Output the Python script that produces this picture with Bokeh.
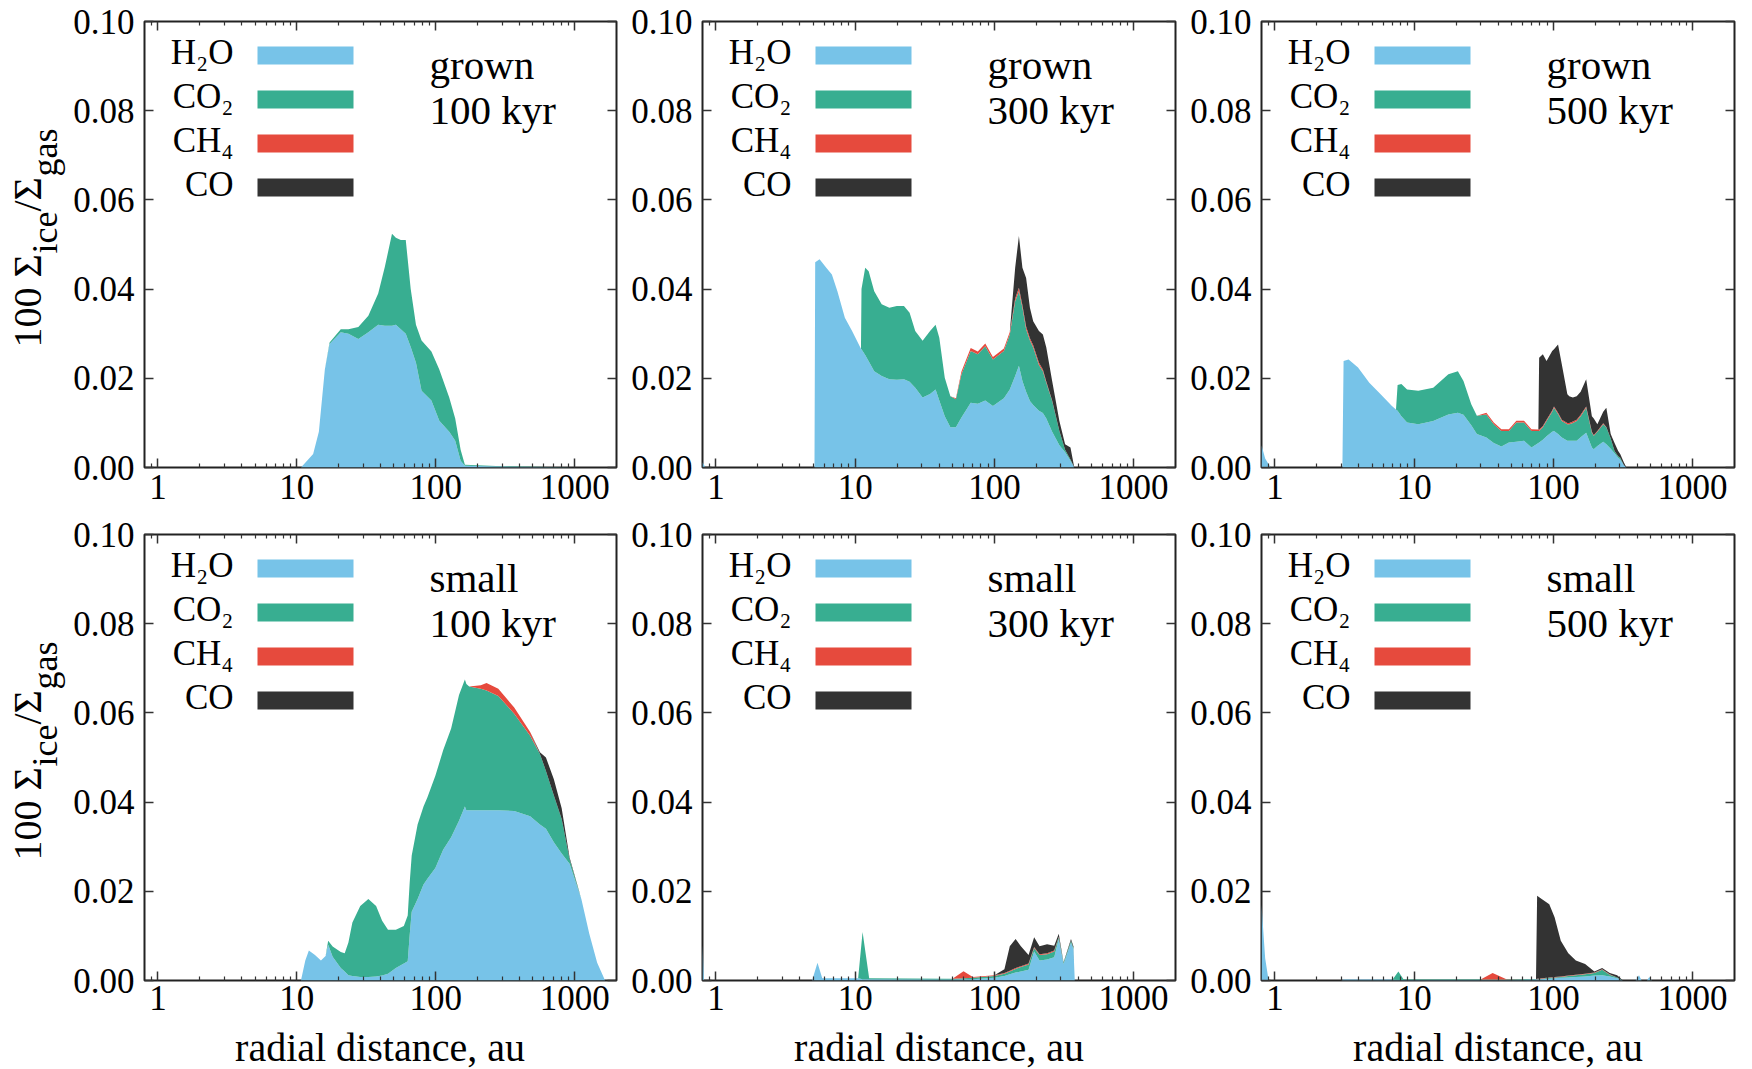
from bokeh.plotting import figure
from bokeh.models import (ColumnDataSource, FixedTicker, LogAxis, LinearAxis, Label,
                          BoxAnnotation, CustomJSTickFormatter, NumeralTickFormatter, Range1d)
from bokeh.layouts import column, row
from bokeh.core.properties import value
from bokeh.embed import file_html
from bokeh.resources import INLINE

# ---------------- data ----------------
SPECIES = ["H₂O", "CO₂", "CH₄", "CO"]
COLORS = ["#77C3E8", "#38AE91", "#E64A3D", "#333333"]
X_MAJOR = [1, 10, 100, 1000]
X_MINOR = [0.9, 2, 3, 4, 5, 6, 7, 8, 9, 20, 30, 40, 50, 60, 70, 80, 90,
           200, 300, 400, 500, 600, 700, 800, 900]
Y_TICKS = [0.0, 0.02, 0.04, 0.06, 0.08, 0.10]
X_TITLE = "radial distance, au"

# grown, 100 kyr
r_g100 = [10.7, 13.1, 14.4, 15.9, 17.2, 20.7, 23.5, 27.7, 32.7, 38.5,
          43, 48.4, 51.6, 56, 60.8, 66, 72, 79, 93, 106,
          125, 138, 151, 162, 300, 1000]
h2o_g100 = [0, 0.003, 0.008, 0.022, 0.0277, 0.0303, 0.030, 0.0288, 0.0303, 0.032,
            0.0318, 0.0318, 0.032, 0.031, 0.030, 0.027, 0.0235, 0.0172, 0.015, 0.0105,
            0.008, 0.006, 0.0015, 0.0004, 0.0002, 0]
co2_g100 = [0, 0, 0, 0, 0.0003, 0.0007, 0.001, 0.0027, 0.0037, 0.007,
            0.0132, 0.0206, 0.0195, 0.020, 0.021, 0.013, 0.0085, 0.0113, 0.011, 0.0115,
            0.0077, 0.005, 0.0025, 0.0002, 0.0001, 0]
ch4_g100 = [0, 0, 0, 0, 0, 0, 0, 0, 0, 0,
            0, 0, 0, 0, 0, 0, 0, 0, 0, 0,
            0, 0, 0, 0, 0, 0]
co_g100 = [0, 0, 0, 0, 0, 0, 0, 0, 0, 0,
           0, 0, 0, 0, 0, 0, 0, 0, 0, 0,
           0, 0, 0, 0, 0, 0]

# grown, 300 kyr
r_g300 = [0.8, 0.84, 5.1, 5.16, 5.55, 6.2, 6.8, 7.45, 8.43, 9.5,
          11.0, 11.1, 11.8, 12.5, 13.7, 15.5, 17.6, 19.9, 22.4, 24.6,
          27, 30.5, 34.5, 37.8, 40.2, 44, 48.3, 52.9, 58, 67.6,
          76, 86, 97.6, 117, 129, 141, 150, 159, 169, 180,
          190, 209, 223, 236, 260, 293, 322, 352, 375, 2000]
h2o_g300 = [0.0012, 0, 0, 0.046, 0.0467, 0.0448, 0.0433, 0.0395, 0.0336, 0.0306,
            0.0266, 0.0265, 0.0252, 0.0238, 0.0216, 0.0205, 0.0198, 0.0197, 0.0198, 0.0192,
            0.0179, 0.0157, 0.0165, 0.0175, 0.0150, 0.0115, 0.0090, 0.0090, 0.0112, 0.0145,
            0.0143, 0.0150, 0.0138, 0.0155, 0.0175, 0.0205, 0.0228, 0.0194, 0.0170, 0.0149,
            0.0140, 0.0127, 0.0122, 0.0110, 0.0080, 0.0050, 0.0034, 0.0015, 0, 0]
co2_g300 = [0, 0, 0, 0, 0, 0, 0, 0, 0, 0,
            0, 0.0135, 0.0196, 0.0202, 0.0179, 0.0161, 0.016, 0.0165, 0.0164, 0.0155,
            0.0127, 0.0127, 0.0141, 0.0145, 0.0141, 0.0086, 0.007, 0.0063, 0.0097, 0.0116,
            0.0111, 0.0122, 0.0104, 0.0106, 0.0123, 0.0168, 0.0167, 0.0164, 0.014, 0.0136,
            0.0129, 0.0103, 0.0094, 0.008, 0.0069, 0.0032, 0.0006, 0.0003, 0, 0]
ch4_g300 = [0, 0, 0, 0, 0, 0, 0, 0, 0, 0,
            0, 0, 0, 0, 0, 0, 0, 0, 0, 0,
            0, 0, 0, 0, 0, 0, 0, 0.0002, 0.0006, 0.0007,
            0.0006, 0.0006, 0.0006, 0.0006, 0.0006, 0.0006, 0.0008, 0.0006, 0.0006, 0.0005,
            0.0005, 0.0005, 0.0004, 0.0003, 0.0001, 0, 0, 0, 0, 0]
co_g300 = [0, 0, 0, 0, 0, 0, 0, 0, 0, 0,
           0, 0, 0, 0, 0, 0, 0, 0, 0, 0,
           0, 0, 0, 0, 0, 0, 0, 0, 0, 0,
           0, 0, 0, 0, 0, 0.0069, 0.0116, 0.0084, 0.0109, 0.0068,
           0.0054, 0.0071, 0.0078, 0.0076, 0.0044, 0.0022, 0.0012, 0.0027, 0, 0]

# grown, 500 kyr
r_g500 = [0.8, 0.85, 0.93, 3.05, 3.11, 3.38, 3.95, 4.76, 5.74, 6.92,
          7.4, 7.6, 8.09, 8.89, 10.7, 13.7, 17.6, 20.6, 22.6, 25.7,
          28.2, 33, 37.3, 42.3, 47.9, 54.2, 61.5, 69.6, 78, 79,
          84, 89.3, 98, 101, 108, 115, 126, 130, 138, 147,
          157, 172, 189, 195, 207, 228, 240, 258, 275, 292,
          302, 321, 335, 2000]
h2o_g500 = [0.005, 0.002, 0, 0, 0.0239, 0.0242, 0.0224, 0.019, 0.0164, 0.0138,
            0.013, 0.0127, 0.0115, 0.0101, 0.0097, 0.0104, 0.0119, 0.0123, 0.0118, 0.0095,
            0.0075, 0.0067, 0.0055, 0.0047, 0.0056, 0.0058, 0.006, 0.0045, 0.0055, 0.0056,
            0.0062, 0.007, 0.008, 0.0082, 0.0075, 0.0067, 0.006, 0.006, 0.006, 0.006,
            0.0068, 0.0078, 0.0045, 0.0041, 0.0048, 0.0058, 0.0052, 0.0042, 0.0032, 0.0022,
            0.0018, 0.0005, 0, 0]
co2_g500 = [0, 0, 0, 0, 0, 0, 0, 0, 0, 0,
            0, 0.0058, 0.0072, 0.0074, 0.0075, 0.0075, 0.009, 0.0093, 0.0076, 0.0047,
            0.0041, 0.0052, 0.0042, 0.0035, 0.0026, 0.0043, 0.0041, 0.0037, 0.0027, 0.0026,
            0.0028, 0.0034, 0.0045, 0.0052, 0.0045, 0.0037, 0.0037, 0.0037, 0.004, 0.0044,
            0.0047, 0.0056, 0.0033, 0.003, 0.0032, 0.0039, 0.0038, 0.0023, 0.0005, 0.0003,
            0.0004, 0, 0, 0]
ch4_g500 = [0, 0, 0, 0, 0, 0, 0, 0, 0, 0,
            0, 0, 0, 0, 0, 0, 0, 0, 0, 0,
            0, 0.0004, 0.0004, 0.0004, 0.0004, 0.0004, 0.0004, 0.0004, 0.0003, 0.0003,
            0.0003, 0.0003, 0.0003, 0.0003, 0.0003, 0.0003, 0.0003, 0.0003, 0.0003, 0.0003,
            0.0003, 0.0003, 0.0002, 0.0002, 0.0002, 0.0002, 0.0001, 0, 0, 0,
            0, 0, 0, 0]
co_g500 = [0, 0, 0, 0, 0, 0, 0, 0, 0, 0,
           0, 0, 0, 0, 0, 0, 0, 0, 0, 0,
           0, 0, 0, 0, 0, 0, 0, 0, 0, 0.0161,
           0.0161, 0.0132, 0.0133, 0.0128, 0.0153, 0.0124, 0.0064, 0.006, 0.0054, 0.0053,
           0.0052, 0.0061, 0.0035, 0.0037, 0.0015, 0.0026, 0.0043, 0.001, 0.0018, 0.0012,
           0.0008, 0.0006, 0, 0]

# small, 100 kyr
r_s100 = [10.7, 11.5, 12.2, 13.5, 14.9, 16.1, 16.8, 18.1, 20.7, 22.1,
          23.5, 25.1, 28.6, 32.7, 37.2, 41.1, 45.3, 51.6, 58.9, 62.8,
          64.9, 67.1, 74, 81.6, 87.1, 99.3, 113, 129, 147, 162,
          166, 174, 211, 232, 282, 367, 478, 562, 621, 708,
          806, 919, 1117, 1274, 1452, 1655, 2000]
h2o_s100 = [0, 0.0045, 0.0067, 0.0057, 0.0045, 0.0055, 0.008, 0.0053, 0.0028, 0.002,
            0.0012, 0.001, 0.0008, 0.0008, 0.0009, 0.0011, 0.0015, 0.0028, 0.0038, 0.0043,
            0.0102, 0.0154, 0.0183, 0.0215, 0.0228, 0.0252, 0.0293, 0.0321, 0.0358, 0.039,
            0.0382, 0.0382, 0.0382, 0.0382, 0.0382, 0.038, 0.0368, 0.035, 0.034, 0.031,
            0.0285, 0.0262, 0.0183, 0.0105, 0.004, 0, 0]
co2_s100 = [0, 0, 0, 0, 0, 0, 0.0009, 0.0023, 0.0036, 0.0041,
            0.0073, 0.012, 0.0159, 0.0175, 0.0158, 0.0123, 0.0099, 0.0086, 0.0084, 0.0103,
            0.0118, 0.0126, 0.0167, 0.0175, 0.0183, 0.0207, 0.0223, 0.0244, 0.0282, 0.0285,
            0.0283, 0.0277, 0.0272, 0.0268, 0.0256, 0.0218, 0.0181, 0.0158, 0.013, 0.0105,
            0.0077, 0.001, 0, 0, 0, 0, 0]
ch4_s100 = [0, 0, 0, 0, 0, 0, 0, 0, 0, 0,
            0, 0, 0, 0, 0, 0, 0, 0, 0, 0,
            0, 0, 0, 0, 0, 0, 0, 0, 0, 0,
            0, 0, 0.0008, 0.0017, 0.0016, 0.0014, 0.0008, 0, 0, 0,
            0, 0, 0, 0, 0, 0, 0]
co_s100 = [0, 0, 0, 0, 0, 0, 0, 0, 0, 0,
           0, 0, 0, 0, 0, 0, 0, 0, 0, 0,
           0, 0, 0, 0, 0, 0, 0, 0, 0, 0,
           0, 0, 0, 0, 0, 0, 0, 0.0004, 0.003, 0.0036,
           0.0024, 0.0004, 0, 0, 0, 0, 0]

# small, 300 kyr
r_s300 = [0.8, 0.82, 4.9, 5.36, 5.8, 10.5, 11.3, 12.6, 45, 50,
          60, 70, 100, 118, 129, 142, 155, 176, 193, 211,
          239, 269, 290, 314, 355, 370, 378, 2000]
h2o_s300 = [0.008, 0, 0, 0.004, 0.0005, 0.0005, 0.0003, 0.0003, 0.0002, 0.0002,
            0.0003, 0.0003, 0.0006, 0.001, 0.0014, 0.0018, 0.002, 0.0024, 0.0065, 0.0045,
            0.0047, 0.0052, 0.0093, 0.0037, 0.0085, 0.007, 0, 0]
co2_s300 = [0, 0, 0, 0, 0, 0, 0.0106, 0.0002, 0.0002, 0.0002,
            0.0002, 0.0003, 0.0004, 0.0005, 0.0006, 0.0008, 0.001, 0.0012, 0.0008, 0.0012,
            0.0012, 0.0013, 0.0004, 0.0003, 0.0004, 0.0003, 0, 0]
ch4_s300 = [0, 0, 0, 0, 0, 0, 0, 0, 0, 0,
            0.0016, 0.0002, 0.0002, 0.0002, 0.0002, 0.0002, 0.0002, 0.0002, 0.0002, 0.0002,
            0.0002, 0.0002, 0.0001, 0, 0, 0, 0, 0]
co_s300 = [0, 0, 0, 0, 0, 0, 0, 0, 0, 0,
           0, 0, 0, 0.0008, 0.0055, 0.0065, 0.0045, 0.0019, 0.0022, 0.0018,
           0.002, 0.0011, 0.0007, 0.0001, 0.0004, 0.0003, 0, 0]

# small, 500 kyr
r_s500 = [0.8, 0.85, 0.9, 3.0, 3.1, 7.0, 7.7, 8.4, 30, 36.6,
          46, 75, 76.4, 82.4, 93.4, 102, 113, 128, 145, 169,
          197, 224, 254, 287, 316, 390, 412, 430, 470, 489,
          510, 2000]
h2o_s500 = [0.017, 0.005, 0, 0, 0.0002, 0.0002, 0.0001, 0.0001, 0.0001, 0.0001,
            0.0001, 0.0002, 0.0002, 0.0003, 0.0004, 0.0005, 0.0006, 0.0007, 0.0008, 0.0009,
            0.0011, 0.0012, 0.0009, 0.0005, 0, 0, 0.0012, 0, 0, 0.0008,
            0, 0]
co2_s500 = [0, 0, 0, 0, 0, 0, 0.0019, 0.0001, 0.0001, 0.0001,
            0.0001, 0.0001, 0.0001, 0.0001, 0.0002, 0.0002, 0.0002, 0.0003, 0.0004, 0.0005,
            0.0006, 0.0012, 0.0004, 0.0002, 0, 0, 0, 0, 0, 0,
            0, 0]
ch4_s500 = [0, 0, 0, 0, 0, 0, 0, 0, 0, 0.0015,
            0.0001, 0, 0.0001, 0.0001, 0.0001, 0.0001, 0.0001, 0.0001, 0.0001, 0.0001,
            0.0001, 0.0001, 0.0001, 0, 0, 0, 0, 0, 0, 0,
            0, 0]
co_s500 = [0, 0, 0, 0, 0, 0, 0, 0, 0, 0,
           0, 0, 0.0186, 0.0178, 0.0164, 0.0134, 0.008, 0.005, 0.0032, 0.0022,
           0.0002, 0.0003, 0.0003, 0.0005, 0, 0, 0, 0, 0, 0,
           0, 0]

PANELS = [
    [("grown", "100 kyr", r_g100, h2o_g100, co2_g100, ch4_g100, co_g100),
     ("grown", "300 kyr", r_g300, h2o_g300, co2_g300, ch4_g300, co_g300),
     ("grown", "500 kyr", r_g500, h2o_g500, co2_g500, ch4_g500, co_g500)],
    [("small", "100 kyr", r_s100, h2o_s100, co2_s100, ch4_s100, co_s100),
     ("small", "300 kyr", r_s300, h2o_s300, co2_s300, ch4_s300, co_s300),
     ("small", "500 kyr", r_s500, h2o_s500, co2_s500, ch4_s500, co_s500)],
]

# ---------------- layout / style ----------------
FONT = "Liberation Serif"
TITLE_W = 70           # strip on the left holding the rotated y titles
STRIP_H = 45           # strip at the bottom holding the x titles
FRAME_W, FRAME_H = 473, 446
COL_W = [552, 559, 571]
COL_L = [73, 80, 80]
COL_R = [6, 6, 18]
ROW_H = [513, 511]
ROW_T = [21, 21]
ROW_B = [46, 44]
ROW_STANDOFF = [7, 5]
LEG_ROWS = [34, 78, 122, 166]  # bar centres, px below frame top


def style_axis(ax, minor=True):
    ax.axis_line_color = None
    ax.major_tick_in = 9
    ax.major_tick_out = 0
    ax.major_tick_line_color = "#333333"
    ax.major_tick_line_width = 1.5
    if minor:
        ax.minor_tick_in = 4
        ax.minor_tick_out = 0
        ax.minor_tick_line_color = "#333333"
        ax.minor_tick_line_width = 1.2
    else:
        ax.minor_tick_line_color = None
    ax.major_label_text_font = FONT
    ax.major_label_text_font_size = "35px"
    ax.major_label_text_color = "black"


def make_panel(ri, ci, size_word, age, r, h2o, co2, ch4, co):
    p = figure(width=COL_W[ci], height=ROW_H[ri], x_axis_type="log",
               x_range=Range1d(0.8, 2000), y_range=Range1d(0, 0.1),
               output_backend="svg", toolbar_location=None,
               min_border_left=COL_L[ci], min_border_right=COL_R[ci],
               min_border_top=ROW_T[ri], min_border_bottom=ROW_B[ri])
    p.xgrid.visible = False
    p.ygrid.visible = False
    p.outline_line_color = "#222222"
    p.outline_line_width = 2
    p.background_fill_color = "white"
    p.border_fill_color = "white"

    src = ColumnDataSource(dict(r=r, h2o=h2o, co2=co2, ch4=ch4, co=co))
    p.varea_stack(stackers=["h2o", "co2", "ch4", "co"], x="r", color=COLORS, source=src)

    xa = p.xaxis[0]
    xa.ticker = FixedTicker(ticks=X_MAJOR, minor_ticks=X_MINOR)
    xa.formatter = NumeralTickFormatter(format="0")
    style_axis(xa)
    xa.major_label_standoff = ROW_STANDOFF[ri]

    ya = p.yaxis[0]
    ya.ticker = FixedTicker(ticks=Y_TICKS)
    ya.formatter = NumeralTickFormatter(format="0.00")
    style_axis(ya, minor=False)
    ya.major_label_standoff = 10

    blank = CustomJSTickFormatter(code="return ''")
    top = LogAxis(ticker=FixedTicker(ticks=X_MAJOR, minor_ticks=X_MINOR), formatter=blank)
    style_axis(top)
    top.major_label_standoff = 0
    p.add_layout(top, "above")
    right = LinearAxis(ticker=FixedTicker(ticks=Y_TICKS), formatter=blank)
    style_axis(right, minor=False)
    right.major_label_standoff = 0
    p.add_layout(right, "right")

    # key (drawn like the original: label, then a colour bar)
    for name, col, yc in zip(SPECIES, COLORS, LEG_ROWS):
        yb = FRAME_H - yc
        p.add_layout(BoxAnnotation(left=113, right=209, bottom=yb - 9, top=yb + 9,
                                   left_units="screen", right_units="screen",
                                   bottom_units="screen", top_units="screen",
                                   fill_color=col, fill_alpha=1.0, line_color=None))
        p.add_layout(Label(x=89, y=yb + 3, x_units="screen", y_units="screen",
                           text=name, text_align="right", text_baseline="alphabetic",
                           text_font=FONT, text_font_size="35px", text_color="black"))

    p.add_layout(Label(x=285, y=FRAME_H - 43, x_units="screen", y_units="screen",
                       text=size_word, text_align="left", text_baseline="alphabetic",
                       text_font=FONT, text_font_size="41px", text_color="black"))
    p.add_layout(Label(x=285, y=FRAME_H - 88, x_units="screen", y_units="screen",
                       text=age, text_align="left", text_baseline="alphabetic",
                       text_font=FONT, text_font_size="41px", text_color="black"))
    return p


def plain_fig(w, h):
    f = figure(width=w, height=h, x_range=Range1d(0, w), y_range=Range1d(0, h),
               output_backend="svg", toolbar_location=None, min_border=0,
               x_axis_location=None, y_axis_location=None)
    f.grid.visible = False
    f.outline_line_color = None
    f.background_fill_color = "white"
    f.border_fill_color = "white"
    return f


# left strip: rotated y titles  "100 Σ_ice/Σ_gas"
total_h = sum(ROW_H) + STRIP_H
ytf = plain_fig(TITLE_W, total_h)
pieces = [("100 Σ", 0, "40px", 27), ("ice", 94, "36px", 44),
          ("/Σ", 136, "40px", 27), ("gas", 171, "36px", 44)]
row_frame_bottoms = [total_h - (ROW_T[0] + FRAME_H),
                     total_h - (ROW_H[0] + ROW_T[1] + FRAME_H)]
for fb in row_frame_bottoms:
    for txt, off, fs, cx in pieces:
        ytf.text(x=[cx], y=[fb + 120 + off], text=[txt], angle=90, angle_units="deg",
                 text_align="left", text_baseline="middle",
                 text_font=value(FONT), text_font_size=value(fs), text_color="black")

# bottom strip: x titles centred below each frame
strip_w = sum(COL_W)
xtf = plain_fig(strip_w, STRIP_H)
x0 = 0
for ci in range(3):
    cx = x0 + COL_L[ci] + FRAME_W / 2
    xtf.text(x=[cx], y=[STRIP_H / 2], text=[X_TITLE], text_align="center",
             text_baseline="middle", text_font=value(FONT),
             text_font_size=value("40px"), text_color="black")
    x0 += COL_W[ci]

rows = []
for ri, panel_row in enumerate(PANELS):
    figs = []
    for ci, (sw, age, r, h2o, co2, ch4, co) in enumerate(panel_row):
        figs.append(make_panel(ri, ci, sw, age, r, h2o, co2, ch4, co))
    rows.append(row(*figs, spacing=0))

layout = row(ytf, column(*rows, xtf, spacing=0), spacing=0)
open("out.html", "w").write(file_html(layout, INLINE, title="ice fractions"))
